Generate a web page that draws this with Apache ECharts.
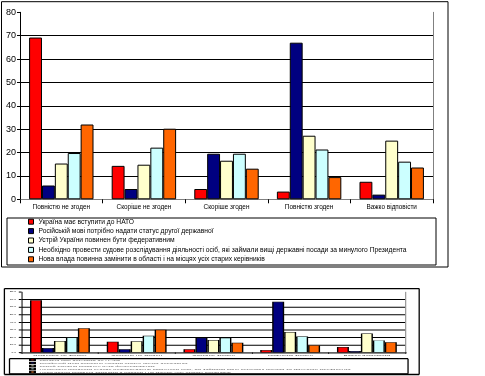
<!DOCTYPE html>
<html>
<head>
<meta charset="utf-8">
<script src="https://cdn.jsdelivr.net/npm/echarts@6/dist/echarts.min.js"></script>
<style>
html, body { margin: 0; padding: 0; background: #fff; overflow: hidden; }
#main { position: absolute; left: 0; top: 0; width: 485px; height: 376px; }
#copy { position: absolute; left: 3.1px; top: 287.7px; width: 485px; height: 376px;
        transform: scale(0.929, 0.324); transform-origin: 0 0; }
</style>
</head>
<body>
<div id="main"></div>
<div id="copy"></div>
<script>
var categories = ['Повністю не згоден', 'Скоріше не згоден', 'Скоріше згоден', 'Повністю згоден', 'Важко відповісти'];
var seriesNames = [
	'Україна має вступити до НАТО',
	'Російській мові потрібно надати статус другої державної',
	'Устрій України повинен бути федеративним',
	'Необхідно провести судове розслідування діяльності осіб, які займали вищі державні посади за минулого Президента',
	'Нова влада повинна замінити в області і на місцях усіх старих керівників'
];
var natoValues = [69.2, 14.3, 4.4, 3.3, 7.5];
var russianValues = [5.9, 4.4, 19.5, 67, 2];
var federalValues = [15.3, 14.8, 16.5, 27.2, 25.1];
var inquiryValues = [19.8, 22.1, 19.5, 21.3, 16.1];
var replaceValues = [32, 30.2, 13.1, 9.5, 13.6];
var seriesColors = ['#ff0000', '#000080', '#ffffcc', '#ccffff', '#ff6600'];
var yMin = 0, yMax = 80, yStep = 10;

var sans = '"Liberation Sans", Arial, sans-serif';

// frame lines (outer box + legend box), hW = width of horizontal lines, vW = vertical
function frameLines(x1, y1, x2, y2, hW, vW) {
	function ln(a, b, c, d, w) {
		return { type: 'line', shape: { x1: a, y1: b, x2: c, y2: d }, style: { stroke: '#000', lineWidth: w }, silent: true };
	}
	return [ln(x1, y1, x2, y1, hW), ln(x1, y2, x2, y2, hW), ln(x1, y1, x1, y2, vW), ln(x2, y1, x2, y2, vW)];
}

function buildOption(s) {
	var values = [natoValues, russianValues, federalValues, inquiryValues, replaceValues];
	var series = values.map(function (v, i) {
		return {
			name: seriesNames[i],
			type: 'bar',
			data: v,
			barGap: '0%',
			barCategoryGap: '22%',
			itemStyle: { color: seriesColors[i], borderColor: '#000', borderWidth: s.barBorder },
			emphasis: { disabled: true }
		};
	});
	return {
		animation: false,
		color: seriesColors,
		graphic: frameLines(1.5, 1.7, 448, 267, s.frameH, s.frameV)
			.concat(frameLines(7, 218, 436, 265, s.frameH, s.frameV)),
		grid: { left: 20, right: 52, top: 12.3, bottom: 176.7 },
		legend: {
			orient: 'vertical',
			left: 28, top: 217,
			padding: 0,
			itemGap: 0,
			itemWidth: 5, itemHeight: 5,
			icon: 'rect',
			data: seriesNames,
			itemStyle: { borderColor: '#000', borderWidth: s.iconBorder },
			textStyle: { fontSize: s.legendFont, lineHeight: 9.4, color: s.legendColor, fontFamily: sans }
		},
		xAxis: [{
			type: 'category',
			data: categories,
			position: 'bottom',
			axisLine: { lineStyle: { color: '#000', width: s.hW } },
			axisTick: { show: true, length: 4, lineStyle: { color: '#000', width: s.vW } },
			axisLabel: { interval: 0, fontSize: 6.4, margin: 5, color: s.catColor, fontFamily: sans },
			splitLine: { show: false }
		}, {
			type: 'category',
			data: categories,
			position: 'top',
			axisLine: { lineStyle: { color: '#808080', width: s.hW } },
			axisTick: { show: false },
			axisLabel: { show: false }
		}],
		yAxis: [{
			type: 'value',
			min: yMin, max: yMax, interval: yStep,
			axisLine: { show: true, lineStyle: { color: '#000', width: s.vW } },
			axisTick: { show: true, length: 3, lineStyle: { color: '#000', width: s.hW } },
			splitLine: { show: true, showMaxLine: false, lineStyle: { color: '#000', width: s.hW } },
			axisLabel: { fontSize: s.yFont, margin: s.yMargin, color: '#000', fontFamily: sans, formatter: s.yFmt }
		}, {
			type: 'value',
			position: 'right',
			min: yMin, max: yMax, interval: yStep,
			axisLine: { show: true, lineStyle: { color: '#808080', width: s.vW } },
			axisTick: { show: false },
			axisLabel: { show: false },
			splitLine: { show: false }
		}],
		series: series
	};
}

var mainChart = echarts.init(document.getElementById('main'), null, { renderer: 'canvas' });
mainChart.setOption(buildOption({
	hW: 1, vW: 1, barBorder: 1, iconBorder: 1, frameH: 1, frameV: 1,
	legendFont: 6.7, legendColor: '#000', catColor: '#000', yFont: 9, yMargin: 4,
	yFmt: function (v) { return v; }
}));

// squashed copy below, same chart re-laid out smaller
var copyChart = echarts.init(document.getElementById('copy'), null, { renderer: 'svg' });
copyChart.setOption(buildOption({
	hW: 3.1, vW: 1.08, barBorder: 1.5, iconBorder: 2.5, frameH: 4.2, frameV: 1.4,
	legendFont: 6.1, legendColor: '#666', catColor: '#444', yFont: 3.5, yMargin: 6,
	yFmt: function (v) { return v.toFixed(1); }
}));
</script>
</body>
</html>
